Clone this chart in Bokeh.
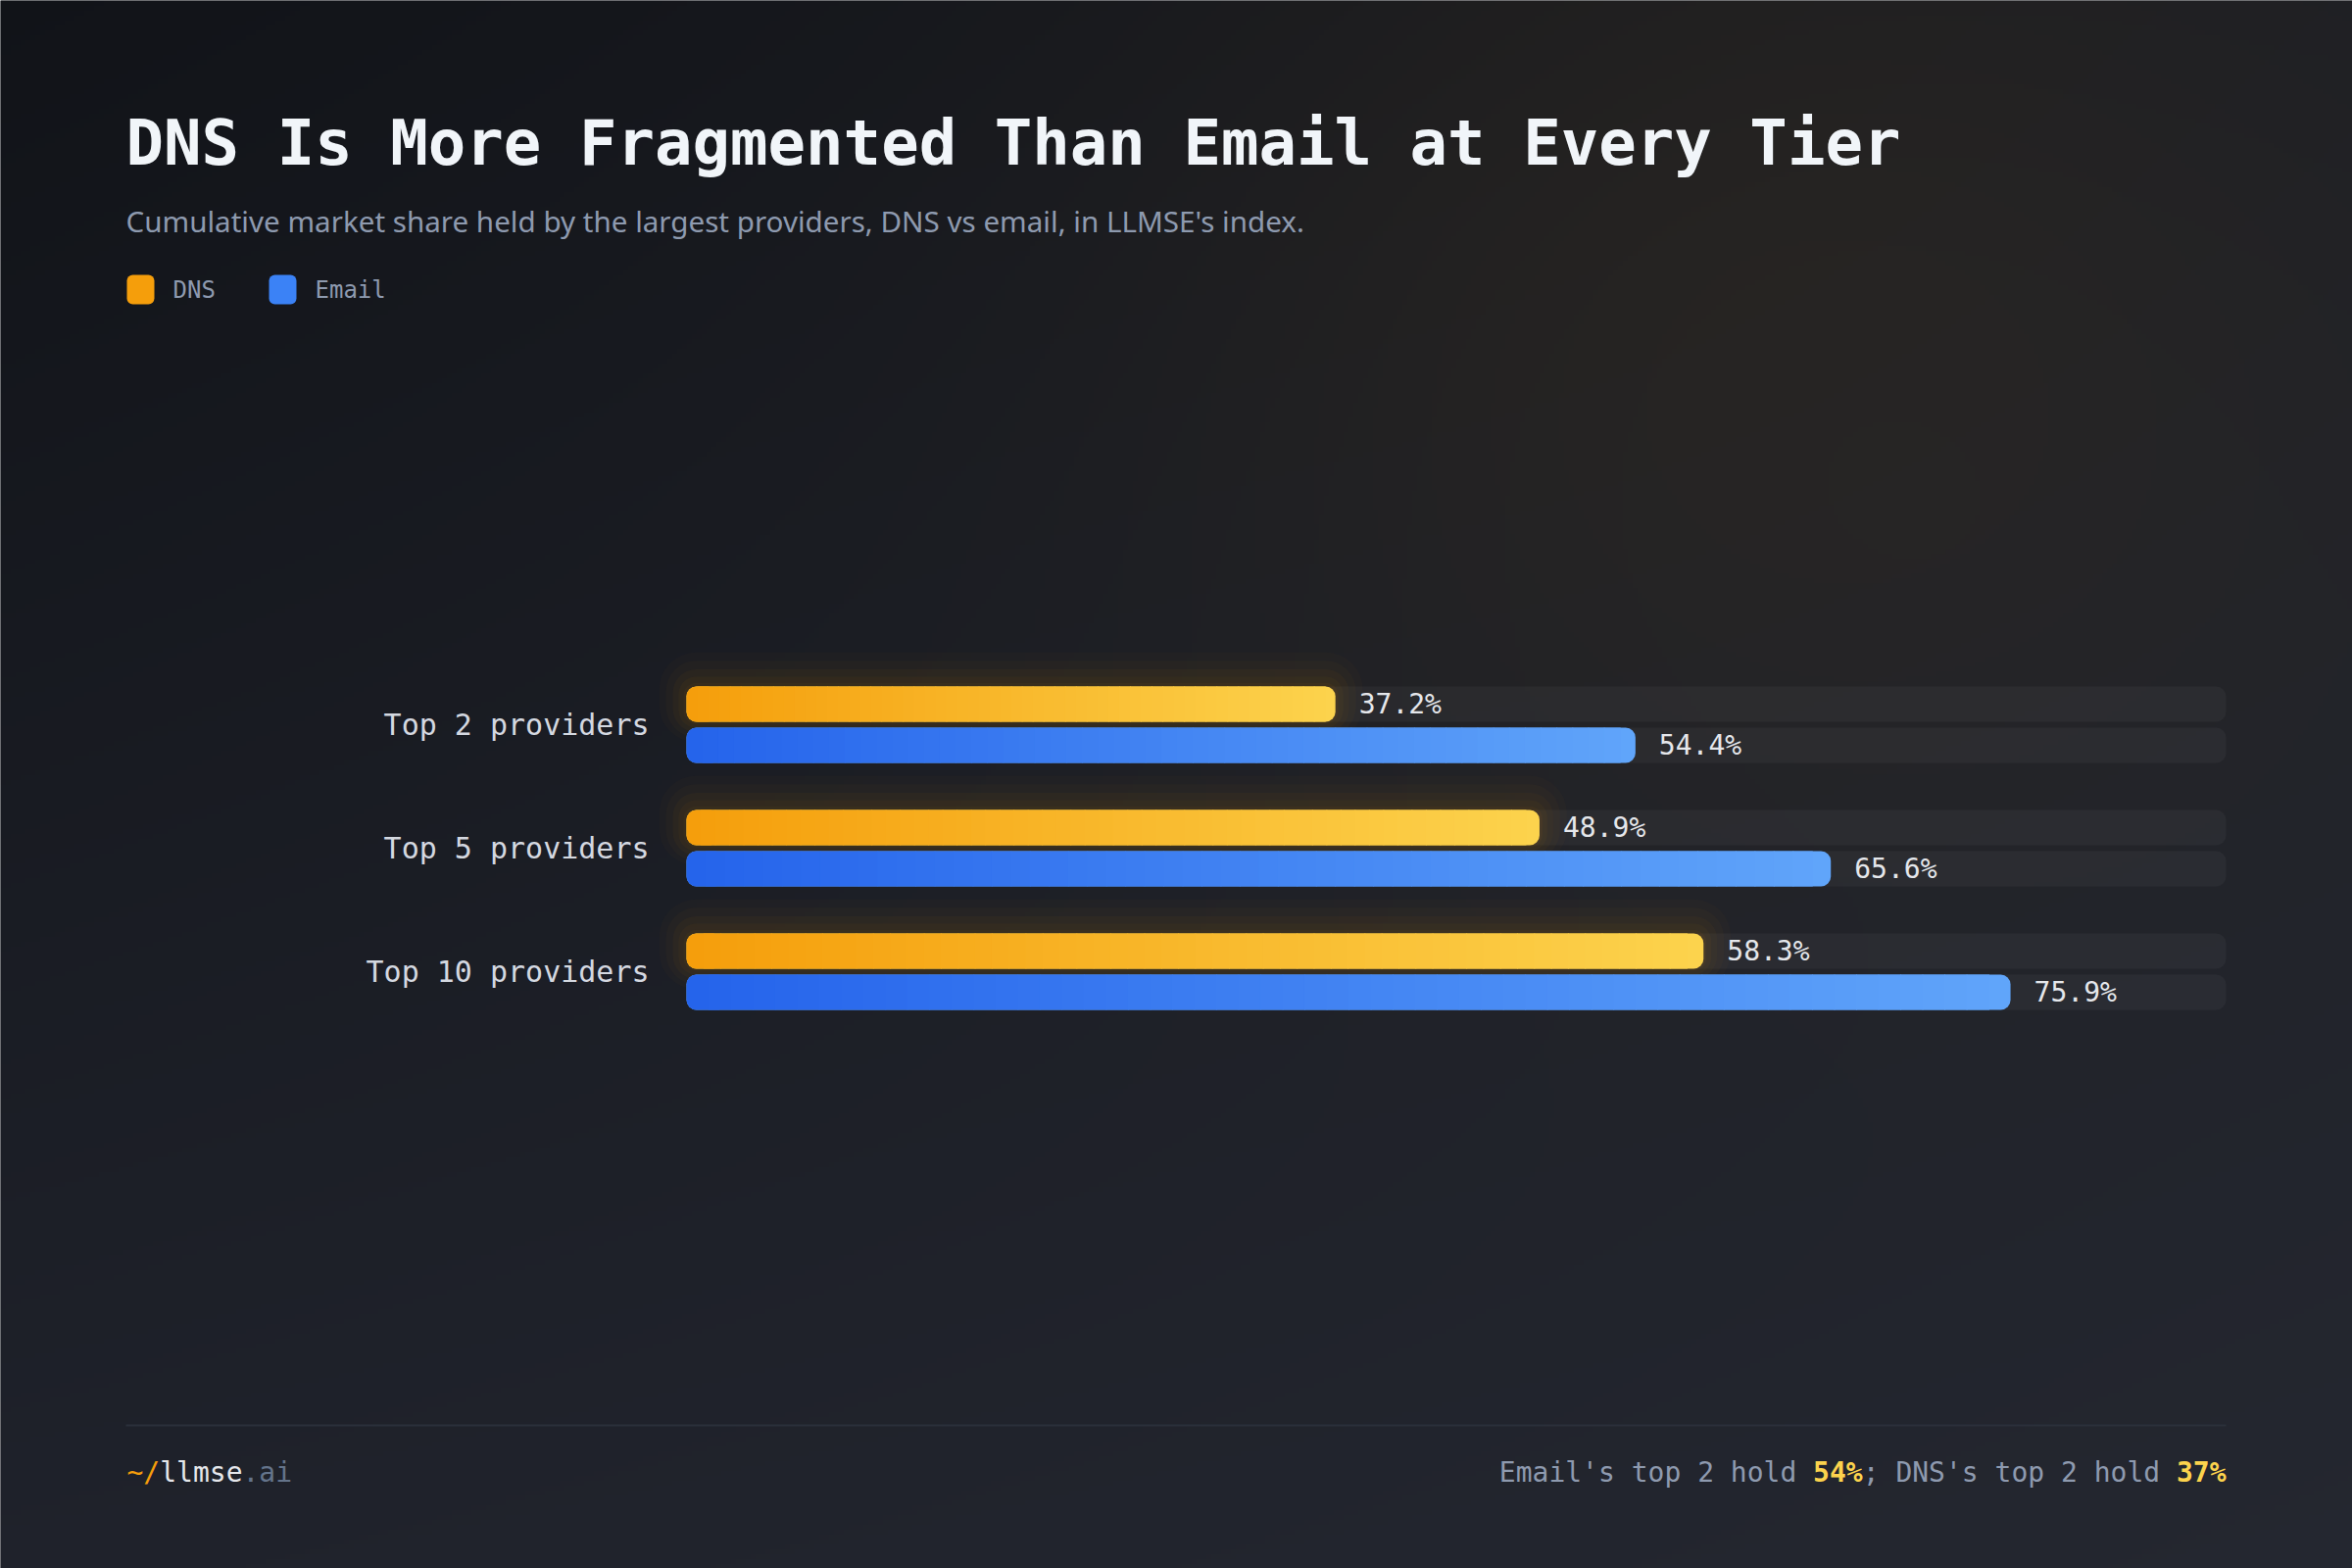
import numpy as np
from bokeh.plotting import figure
from bokeh.models import Range1d
from bokeh.core.properties import value
from bokeh.embed import file_html
from bokeh.resources import INLINE

# ---------------- data ----------------
categories = ["Top 2 providers", "Top 5 providers", "Top 10 providers"]
dns_share = [37.2, 48.9, 58.3]
email_share = [54.4, 65.6, 75.9]
series_names = ["DNS", "Email"]

title_text = "DNS Is More Fragmented Than Email at Every Tier"
subtitle_text = "Cumulative market share held by the largest providers, DNS vs email, in LLMSE's index."

# ---------------- layout / style ----------------
W, H = 2400, 1600
LEFT, RIGHT = 128, 2271
BAR_X0 = 700
X_MAX = max(email_share) / 0.86          # scale domain
PXU = (RIGHT - BAR_X0) / X_MAX           # px per percent
ROW = 126                                # px per category row
G0 = 739                                 # screen y of first group centre
BAR_H = 36 / ROW
OFF = 21 / ROW
RADIUS = 10

MONO = value("DejaVu Sans Mono")
SANS = value("Noto Sans")

DNS_C0, DNS_C1 = (245, 158, 11), (252, 211, 77)
EM_C0, EM_C1 = (37, 99, 235), (96, 165, 250)
SWATCH = {"DNS": "#f59e0b", "Email": "#3b82f6"}


def hexc(c):
    return "#%02x%02x%02x" % tuple(int(round(v)) for v in c)


def lerp(a, b, t):
    return tuple(a[i] + (b[i] - a[i]) * t for i in range(3))


def sy(s):
    """screen y (down) -> px-range y (up)"""
    return H - s


p = figure(width=W, height=H, output_backend="svg", toolbar_location=None,
           x_range=Range1d(-BAR_X0 / PXU, (W - BAR_X0) / PXU),
           y_range=Range1d(-(H - G0) / ROW, G0 / ROW),
           x_axis_location=None, y_axis_location=None, min_border=0)
p.extra_x_ranges = {"px": Range1d(0, W)}
p.extra_y_ranges = {"px": Range1d(0, H)}
p.grid.visible = False
p.outline_line_color = None
p.background_fill_color = "#1b1d23"
p.border_fill_color = "#1b1d23"

# ---------------- background gradient ----------------
res = 5
nx, ny = W // res, H // res
xs = (np.arange(nx) + 0.5) * res
ys = H - (np.arange(ny) + 0.5) * res
X, Y = np.meshgrid(xs, ys)
u, v = X / W, Y / H
TL, TR, BL, BR = [np.array(c, float) for c in [(17, 19, 24), (28, 30, 36), (31, 34, 43), (36, 39, 48)]]
base = (((1 - u) * (1 - v))[..., None] * TL + (u * (1 - v))[..., None] * TR
        + ((1 - u) * v)[..., None] * BL + (u * v)[..., None] * BR)
d2 = ((X - 1800) / 650) ** 2 + ((Y - 330) / 550) ** 2
a = (0.05 * np.exp(-d2))[..., None]
col = base * (1 - a) + np.array([245, 158, 11], float) * a
img = np.empty((ny, nx), dtype=np.uint32)
view = img.view(dtype=np.uint8).reshape((ny, nx, 4))
view[..., 0] = col[..., 0].round().astype(np.uint8)
view[..., 1] = col[..., 1].round().astype(np.uint8)
view[..., 2] = col[..., 2].round().astype(np.uint8)
view[..., 3] = 255
p.image_rgba(image=[img], x=0, y=0, dw=W, dh=H, x_range_name="px", y_range_name="px")

# ---------------- bars ----------------
idx = list(range(len(categories)))
dns_y = [-i + OFF for i in idx]
em_y = [-i - OFF for i in idx]

# tracks
p.hbar(y=dns_y + em_y, left=0, right=X_MAX, height=BAR_H, fill_color="white",
       fill_alpha=0.04, line_color=None, border_radius=RADIUS)

# glow behind DNS bars (stronger above the bar)
for pad, alpha in [(3, 0.04), (8, 0.035), (14, 0.03), (21, 0.025), (28, 0.02)]:
    p.hbar(y=[yy + 0.25 * pad / ROW for yy in dns_y], left=-pad / PXU,
           right=[d + pad / PXU for d in dns_share],
           height=BAR_H + 2 * pad / ROW, fill_color="#f59e0b", fill_alpha=alpha,
           line_color=None, border_radius=RADIUS + pad)

N = 60
overlap = 1.0 / PXU


def gradient_bars(ys_, vals, c0, c1):
    # full bar in end colour (gives the rounded right end)
    p.hbar(y=ys_, left=0, right=vals, height=BAR_H, fill_color=hexc(c1),
           line_color=None, border_radius=RADIUS)
    fy, fl, fr, fc = [], [], [], []
    my, ml, mr, mc = [], [], [], []
    for yy, val in zip(ys_, vals):
        for k in range(N - 1):
            l = val * k / N
            r = val * (k + 1) / N + overlap
            c = hexc(lerp(c0, c1, (k + 0.5) / N))
            if k == 0:
                fy.append(yy); fl.append(l); fr.append(r + 10 / PXU); fc.append(c)
            else:
                my.append(yy); ml.append(l); mr.append(r); mc.append(c)
    p.hbar(y=fy, left=fl, right=fr, height=BAR_H, fill_color=fc, line_color=None,
           border_radius=(RADIUS, 0, 0, RADIUS))
    p.hbar(y=my, left=ml, right=mr, height=BAR_H, fill_color=mc, line_color=None)


gradient_bars(dns_y, dns_share, DNS_C0, DNS_C1)
gradient_bars(em_y, email_share, EM_C0, EM_C1)

# value labels
p.text(x=dns_share + email_share, y=dns_y + em_y,
       text=[f"{s:.1f}%" for s in dns_share + email_share],
       x_offset=24, text_baseline="middle", text_align="left",
       text_font=MONO, text_font_size="28px", text_color="#e5e7eb")

# category labels
p.text(x=[0] * len(categories), y=[-i for i in idx], text=categories,
       x_offset=-38, text_baseline="middle", text_align="right",
       text_font=MONO, text_font_size="30px", text_color="#d4d8e0")

# ---------------- header ----------------
p.text(x=[LEFT], y=[sy(145)], text=[title_text], text_font=MONO, text_font_size="64px",
       text_font_style="bold", text_color="#f1f5f9", text_baseline="middle",
       x_range_name="px", y_range_name="px")
p.text(x=[LEFT], y=[sy(225)], text=[subtitle_text], text_font=SANS, text_font_size="29.6px",
       text_color="#8e9aaf", text_baseline="middle",
       x_range_name="px", y_range_name="px")

# legend
leg_x = [129, 274]
for name, lx in zip(series_names, leg_x):
    p.quad(left=[lx], right=[lx + 28], top=[sy(280)], bottom=[sy(310)],
           fill_color=SWATCH[name], line_color=None, border_radius=6,
           x_range_name="px", y_range_name="px")
    p.text(x=[lx + 47], y=[sy(295)], text=[name], text_font=MONO, text_font_size="24px",
           text_color="#8e9aaf", text_baseline="middle",
           x_range_name="px", y_range_name="px")

# ---------------- footer ----------------
p.segment(x0=[LEFT], x1=[RIGHT], y0=[sy(1454)], y1=[sy(1454)], line_color="#2b303b",
          line_width=2, x_range_name="px", y_range_name="px")

CW = 0.602 * 28
FY = sy(1502)
fx = LEFT + 1
for txt, colr in [("~/", "#f59e0b"), ("llmse", "#e5e7eb"), (".ai", "#64748b")]:
    p.text(x=[fx], y=[FY], text=[txt], text_font=MONO, text_font_size="28px",
           text_color=colr, text_baseline="middle",
           x_range_name="px", y_range_name="px")
    fx += len(txt) * CW

pieces = [("Email's top 2 hold ", "normal", "#8e9aaf"),
          (f"{round(email_share[0])}%", "bold", "#fcd34d"),
          ("; DNS's top 2 hold ", "normal", "#8e9aaf"),
          (f"{round(dns_share[0])}%", "bold", "#fcd34d")]
total = sum(len(t) for t, _, _ in pieces)
fx = RIGHT - total * CW
for txt, style, colr in pieces:
    p.text(x=[fx], y=[FY], text=[txt], text_font=MONO, text_font_size="28px",
           text_font_style=style, text_color=colr, text_baseline="middle",
           x_range_name="px", y_range_name="px")
    fx += len(txt) * CW

open("out.html", "w").write(file_html(p, INLINE))
